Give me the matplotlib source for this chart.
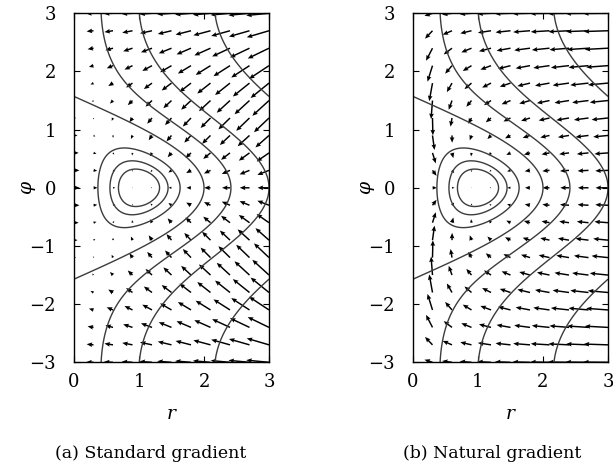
import numpy as np
import matplotlib
matplotlib.use("Agg")
import matplotlib.pyplot as plt

plt.rcParams['font.family'] = ['DejaVu Serif']
plt.rcParams['mathtext.fontset'] = 'dejavuserif'

# target point (x, y) of the quadratic cost, in cartesian coordinates
target = [1.0, 0.0]
# contour levels
levels = [0.1, 0.2, 0.4, 1, 2, 4, 10]
# quiver grid
r_ticks = [0, 1, 2, 3]
phi_ticks = [-3, -2, -1, 0, 1, 2, 3]
r_arrows = np.arange(0, 3.01, 0.3)
phi_arrows = np.arange(-3, 3.01, 0.3)
captions = ['(a) Standard gradient', '(b) Natural gradient']


def cost(r, p):
    x = r * np.cos(p)
    y = r * np.sin(p)
    return (x - target[0])**2 + (y - target[1])**2


def grad(r, p):
    # d/dr and d/dphi of the cost
    dr = 2*r - 2*(target[0]*np.cos(p) + target[1]*np.sin(p))
    dp = 2*r*(target[0]*np.sin(p) - target[1]*np.cos(p))
    return dr, dp


def draw(ax, natural):
    rr = np.linspace(0, 3, 301)
    pp = np.linspace(-3, 3, 601)
    R, P = np.meshgrid(rr, pp)
    ax.contour(R, P, cost(R, P), levels=levels, colors='#3c3c3c', linewidths=1.0)

    ra = r_arrows if not natural else r_arrows[1:]
    RA, PA = np.meshgrid(ra, phi_arrows)
    dr, dp = grad(RA, PA)
    if natural:
        dp = dp / RA**2   # metric diag(1, r^2)
    U, V = -dr, -dp
    # matlab-like autoscale
    dx, dy = 0.3, 0.3
    ln = np.sqrt((U**2 + V**2) / (dx**2 + dy**2))
    s = 0.9 / ln.max()
    ax.quiver(RA, PA, U*s, V*s, angles='xy', scale_units='xy', scale=1,
              color='black', width=0.0075, headwidth=3.2, headlength=3.8,
              headaxislength=3.4, minlength=0.4, pivot='tail')

    ax.set_xlim(0, 3)
    ax.set_ylim(-3, 3)
    ax.set_xticks(r_ticks)
    ax.set_yticks(phi_ticks)
    ax.set_yticklabels([str(t).replace('-', '\u2212') for t in phi_ticks])
    ax.tick_params(direction='in', top=True, right=True, labelsize=13, length=4)
    ax.tick_params(axis='x', pad=8)
    ax.tick_params(axis='y', pad=13)
    ax.set_xlabel('$r$', fontsize=13.5, labelpad=10)
    ax.set_ylabel(r'$\varphi$', fontsize=13.5, labelpad=-6)
    for sp in ax.spines.values():
        sp.set_linewidth(1.0)


fig = plt.figure(figsize=(6.13, 4.71), dpi=100)
ax1 = fig.add_axes([74/613, 1 - 362.3/471, 195/613, 349/471])
ax2 = fig.add_axes([413/613, 1 - 362.3/471, 195/613, 349/471])
draw(ax1, False)
draw(ax2, True)
fig.text(151/613, 1 - 453/471, captions[0], ha='center', va='center', fontsize=12.5)
fig.text(492/613, 1 - 453/471, captions[1], ha='center', va='center', fontsize=12.5)

fig.savefig('out.png', dpi=100)
